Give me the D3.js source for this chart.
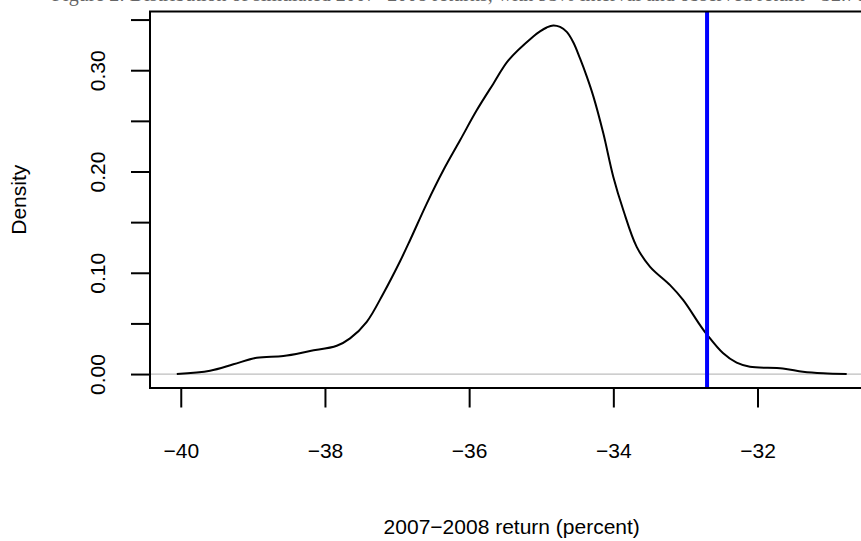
<!DOCTYPE html>
<html>
<head>
<meta charset="utf-8">
<script src="https://cdn.jsdelivr.net/npm/d3@7"></script>
<style>
  html, body { margin: 0; padding: 0; background: #fff; }
  svg { display: block; }
  text { font-family: "Liberation Sans", Arial, Helvetica, sans-serif; fill: #000; }
</style>
</head>
<body>
<svg id="chart" width="861" height="541"></svg>
<script>
// Kernel density estimate of simulated 2007-2008 returns (percent)
const returnGrid = [-40.055, -39.594, -39.27, -38.946, -38.577, -38.207, -37.836, -37.652,
  -37.42, -37.19, -36.958, -36.82, -36.588, -36.358, -36.126, -35.895, -35.664, -35.456,
  -35.11, -35.017, -34.924, -34.832, -34.739, -34.646, -34.554, -34.462, -34.369, -34.277,
  -34.139, -34.0, -33.861, -33.676, -33.49, -33.213, -33.03, -32.797, -32.696, -32.48,
  -32.29, -32.105, -31.65, -31.37, -31.09, -30.763];
const densityValues = [0.0, 0.0033, 0.0096, 0.0161, 0.0178, 0.0227, 0.0279, 0.0352,
  0.0516, 0.0796, 0.1114, 0.1321, 0.1683, 0.2012, 0.2308, 0.2604, 0.2867, 0.3097,
  0.3333, 0.3383, 0.3422, 0.3442, 0.3427, 0.3378, 0.3274, 0.3116, 0.2939, 0.2742,
  0.2377, 0.1946, 0.1617, 0.1256, 0.1059, 0.0878, 0.073, 0.0483, 0.0385, 0.0207,
  0.0112, 0.0072, 0.0056, 0.0023, 0.0007, 0.0];
// Observed 2007-2008 return, marked with a vertical line
const observedReturn = -32.7;
const xTickValues = [-40, -38, -36, -34, -32];
const yTickValues = [0.00, 0.05, 0.10, 0.15, 0.20, 0.25, 0.30, 0.35];
const yTickLabels = ["0.00", "", "0.10", "", "0.20", "", "0.30", ""];
const titleText = "Figure 2: Distribution of simulated 2007\u22122008 returns, with 95% interval and observed return \u221232.70 per cent";
const xTitle = "2007\u22122008 return (percent)";
const yTitle = "Density";

const svg = d3.select("#chart");

// Padded ranges as in a base-graphics density plot (4% on each side)
const xMin = d3.min(returnGrid), xMax = d3.max(returnGrid);
const xPad = (xMax - xMin) * 0.04;
const yMax = d3.max(densityValues);
const yPad = yMax * 0.04;

const plotLeft = 150, plotRight = 873.5, plotTop = 11.5, plotBottom = 388;

const x = d3.scaleLinear().domain([xMin - xPad, xMax + xPad]).range([plotLeft, plotRight]);
const y = d3.scaleLinear().domain([-yPad, yMax + yPad]).range([plotBottom, plotTop]);

// Caption above the drawing area
svg.append("text")
  .attr("x", 52).attr("y", 0.5)
  .style("font-family", "'Liberation Serif', 'DejaVu Serif', serif")
  .style("font-size", "20px")
  .style("fill", "#666")
  .text(titleText);

// Clip for marks inside the plot region
svg.append("defs").append("clipPath").attr("id", "plotClip")
  .append("rect")
  .attr("x", plotLeft).attr("y", plotTop)
  .attr("width", plotRight - plotLeft).attr("height", plotBottom - plotTop);

const plot = svg.append("g").attr("clip-path", "url(#plotClip)");

// Zero reference line
plot.append("line")
  .attr("x1", plotLeft).attr("x2", plotRight)
  .attr("y1", y(0)).attr("y2", y(0))
  .attr("stroke", "#bebebe").attr("stroke-width", 1.3);

// Density curve
const pts = returnGrid.map((v, i) => [v, densityValues[i]]);
plot.append("path")
  .datum(pts)
  .attr("fill", "none")
  .attr("stroke", "#000")
  .attr("stroke-width", 2)
  .attr("stroke-linejoin", "round")
  .attr("d", d3.line().x(d => x(d[0])).y(d => y(d[1])).curve(d3.curveCatmullRom.alpha(0.5)));

// Observed return line
plot.append("line")
  .attr("x1", x(observedReturn)).attr("x2", x(observedReturn))
  .attr("y1", plotTop).attr("y2", plotBottom)
  .attr("stroke", "#0000ff").attr("stroke-width", 4);

// Plot box
svg.append("rect")
  .attr("x", plotLeft).attr("y", plotTop)
  .attr("width", plotRight - plotLeft).attr("height", plotBottom - plotTop)
  .attr("fill", "none").attr("stroke", "#000").attr("stroke-width", 2);

// X axis
const xAxis = d3.axisBottom(x)
  .tickValues(xTickValues)
  .tickSize(19.5)
  .tickPadding(36)
  .tickFormat(d => String(d).replace("-", "\u2212"));
const gx = svg.append("g").attr("transform", `translate(0,${plotBottom})`).call(xAxis);
gx.select(".domain").remove();
gx.selectAll(".tick line").attr("stroke", "#000").attr("stroke-width", 2);
gx.selectAll(".tick text").style("font-size", "21px").attr("font-family", null);

// Y axis (labels rotated, parallel to the axis)
const yAxis = d3.axisLeft(y)
  .tickValues(yTickValues)
  .tickSize(19)
  .tickFormat((d, i) => yTickLabels[i]);
const gy = svg.append("g").attr("transform", `translate(${plotLeft},0)`).call(yAxis);
gy.select(".domain").remove();
gy.selectAll(".tick line").attr("stroke", "#000").attr("stroke-width", 2);
gy.selectAll(".tick text")
  .attr("x", null)
  .attr("text-anchor", "middle")
  .attr("transform", "translate(-52,0) rotate(-90)")
  .attr("dy", "0.35em")
  .style("font-size", "21px").attr("font-family", null);

// Axis titles
svg.append("text")
  .attr("x", (plotLeft + plotRight) / 2).attr("y", 527)
  .attr("text-anchor", "middle").attr("dy", "0.35em")
  .style("font-size", "21px")
  .text(xTitle);

svg.append("text")
  .attr("transform", `translate(19,${(plotTop + plotBottom) / 2}) rotate(-90)`)
  .attr("text-anchor", "middle").attr("dy", "0.35em")
  .style("font-size", "21px")
  .text(yTitle);
</script>
</body>
</html>
